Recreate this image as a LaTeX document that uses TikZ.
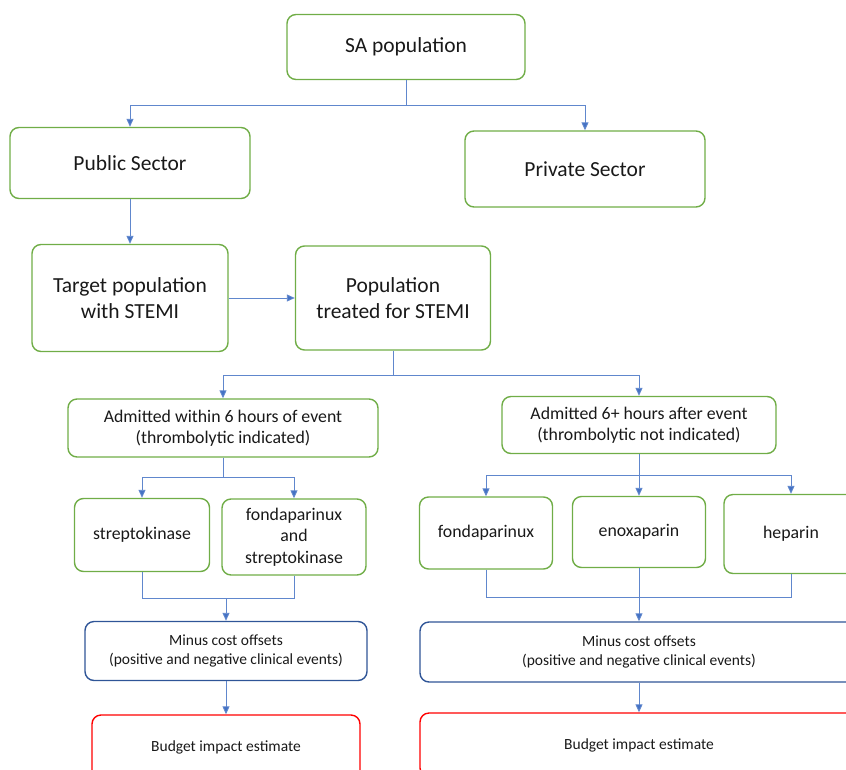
\documentclass[tikz,border=0pt]{standalone}
\usepackage{fontspec}
\setmainfont{Carlito}
\usetikzlibrary{arrows.meta}
\definecolor{boxgreen}{RGB}{112,173,71}
\definecolor{boxblue}{RGB}{47,85,151}
\definecolor{boxred}{RGB}{255,0,0}
\definecolor{linkblue}{RGB}{68,114,196}
\definecolor{txt}{RGB}{25,25,25}
\tikzset{
  box/.style={rectangle,rounded corners=9pt,line width=1.4pt,align=center,inner sep=2pt,text=txt},
  greenbox/.style={box,draw=boxgreen},
  offsetbox/.style={box,draw=boxblue},
  resultbox/.style={box,draw=boxred},
  big/.style={font=\fontsize{21.5}{26}\selectfont},
  mid/.style={font=\fontsize{17.8}{21.5}\selectfont},
  small/.style={font=\fontsize{15.5}{19}\selectfont},
  conn/.style={draw=linkblue!85,line width=0.9pt},
  arr/.style={conn,-{Triangle[length=8pt,width=7pt,fill=linkblue]}}
}
\begin{document}
\begin{tikzpicture}[x=1pt,y=-1pt]
  \useasboundingbox (0,0) rectangle (846,769);
  \clip (0,0) rectangle (846,769);
  % top level
  \node[greenbox,big,minimum width=238pt,minimum height=65pt] (sa) at (406,47) {SA population};
  \node[greenbox,big,minimum width=240pt,minimum height=71pt] (pub) at (130,163) {Public Sector};
  \node[greenbox,big,minimum width=240pt,minimum height=76pt] (priv) at (585,169) {Private Sector};
  \node[greenbox,big,minimum width=196pt,minimum height=107pt] (target) at (130,298) {Target population\\with STEMI};
  \node[greenbox,big,minimum width=195pt,minimum height=104pt] (treated) at (393,298) {Population\\treated for STEMI};
  % time of admission
  \node[greenbox,mid,minimum width=310pt,minimum height=58pt] (early) at (223,428) {Admitted within 6 hours of event\\(thrombolytic indicated)};
  \node[greenbox,mid,minimum width=274pt,minimum height=57pt] (late) at (639,425) {Admitted 6+ hours after event\\(thrombolytic not indicated)};
  % treatments
  \node[greenbox,mid,minimum width=135pt,minimum height=73pt] (strep) at (142,535) {streptokinase};
  \node[greenbox,mid,minimum width=144pt,minimum height=76pt] (fondastrep) at (294,537) {fondaparinux\\and\\streptokinase};
  \node[greenbox,mid,minimum width=133pt,minimum height=72pt] (fonda) at (486,533) {fondaparinux};
  \node[greenbox,mid,minimum width=133pt,minimum height=71pt] (enox) at (639,532) {enoxaparin};
  \node[greenbox,mid,minimum width=134pt,minimum height=79pt] (hep) at (791,534) {heparin};
  % offsets and estimates
  \node[offsetbox,small,minimum width=282pt,minimum height=59pt] (minusL) at (226,651) {Minus cost offsets\\(positive and negative clinical events)};
  \node[offsetbox,small,minimum width=438pt,minimum height=60pt] (minusR) at (639,652) {Minus cost offsets\\(positive and negative clinical events)};
  \node[resultbox,small,minimum width=268pt,minimum height=64pt] (budgetL) at (226,747) {Budget impact estimate};
  \node[resultbox,small,minimum width=438pt,minimum height=64pt] (budgetR) at (639,745) {Budget impact estimate};
  % links
  \draw[conn] (sa.south) -- ++(0,25) coordinate (k1);
  \draw[arr] (k1) -| (pub.north);
  \draw[arr] (k1) -| (priv.north);
  \draw[arr] (pub.south) -- (target.north);
  \draw[arr] (target.east) -- (treated.west);
  \draw[conn] (treated.south) -- ++(0,25) coordinate (k2);
  \draw[arr] (k2) -| (early.north);
  \draw[arr] (k2) -| (late.north);
  \draw[conn] (early.south) -- ++(0,20) coordinate (k3);
  \draw[arr] (k3) -| (strep.north);
  \draw[arr] (k3) -| (fondastrep.north);
  \draw[conn] (late.south) -- ++(0,21) coordinate (k4);
  \draw[arr] (k4) -| (fonda.north);
  \draw[arr] (k4) -- (enox.north);
  \draw[arr] (k4) -| (hep.north);
  \coordinate (k5) at (226,598);
  \draw[conn] (strep.south) |- (k5);
  \draw[conn] (fondastrep.south) |- (k5);
  \draw[arr] (k5) -- (minusL.north);
  \coordinate (k6) at (639,597);
  \draw[conn] (fonda.south) |- (k6);
  \draw[conn] (hep.south) |- (k6);
  \draw[arr] (enox.south) -- (minusR.north);
  \draw[arr] (minusL.south) -- (budgetL.north);
  \draw[arr] (minusR.south) -- (budgetR.north);
\end{tikzpicture}
\end{document}
